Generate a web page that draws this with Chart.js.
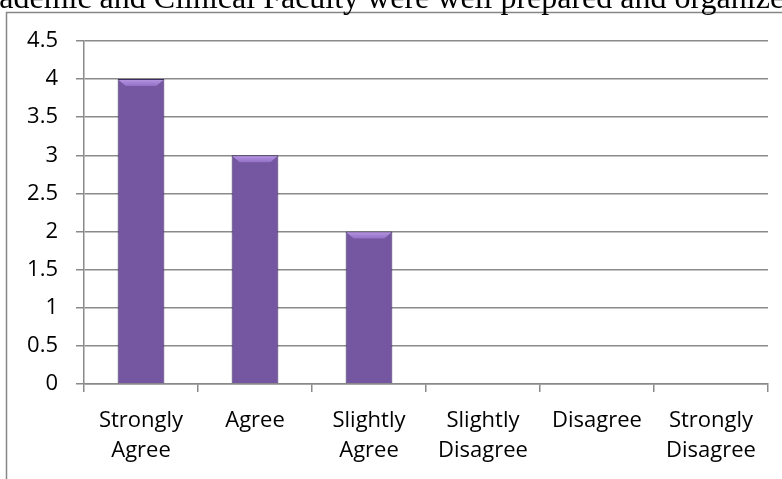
<!DOCTYPE html>
<html>
<head>
<meta charset="utf-8">
<script src="https://cdn.jsdelivr.net/npm/chart.js@4"></script>
<style>
  html, body { margin: 0; padding: 0; background: #fff; }
  #wrap { width: 782px; height: 479px; }
</style>
</head>
<body>
<div id="wrap"><canvas id="myChart" width="782" height="479"></canvas></div>
<script>
var titleText = 'Academic and Clinical Faculty were well prepared and organized';
var categories = [
    ['Strongly', 'Agree'],
    'Agree',
    ['Slightly', 'Agree'],
    ['Slightly', 'Disagree'],
    'Disagree',
    ['Strongly', 'Disagree']
];
var responses = [4, 3, 2, 0, 0, 0];
var yTicks = [0, 0.5, 1, 1.5, 2, 2.5, 3, 3.5, 4, 4.5];

// frame + cut-off title, like the pasted excel chart
var framePlugin = {
    id: 'frame',
    beforeDraw: function (chart) {
        var c = chart.ctx;
        c.save();
        c.fillStyle = '#fff';
        c.fillRect(0, 0, chart.width, chart.height);
        c.strokeStyle = '#868686';
        c.lineWidth = 1.5;
        c.strokeRect(6.5, 12.5, 900, 600);
        c.fillStyle = '#000';
        c.font = '32px "Liberation Serif", "Times New Roman", serif';
        c.textAlign = 'center';
        c.textBaseline = 'alphabetic';
        c.fillText(titleText, 381, 8);
        c.restore();
    }
};

// light bevel on top of each bar
var bevelPlugin = {
    id: 'bevel',
    afterDatasetsDraw: function (chart) {
        var c = chart.ctx;
        var meta = chart.getDatasetMeta(0);
        c.save();
        meta.data.forEach(function (bar, i) {
            if (!responses[i]) return;
            var w = bar.width, l = bar.x - w / 2, r = bar.x + w / 2, t = bar.y;
            var d = 7;
            var g = c.createLinearGradient(0, t, 0, t + d);
            g.addColorStop(0, '#b898e4');
            g.addColorStop(1, '#9270c6');
            c.fillStyle = g;
            c.beginPath();
            c.moveTo(l + 1, t + 1);
            c.lineTo(r - 1, t + 1);
            c.lineTo(r - 1 - d, t + d);
            c.lineTo(l + 1 + d, t + d);
            c.closePath();
            c.fill();
        });
        c.restore();
    }
};

var ctx = document.getElementById('myChart').getContext('2d');
var myChart = new Chart(ctx, {
    type: 'bar',
    data: {
        labels: categories,
        datasets: [{
            label: 'Responses',
            data: responses,
            backgroundColor: function (context) {
                var el = context.element;
                if (!el || !el.width) return '#7556a0';
                var l = el.x - el.width / 2, r = el.x + el.width / 2;
                var g = context.chart.ctx.createLinearGradient(l, 0, r, 0);
                g.addColorStop(0, '#5a3f84');
                g.addColorStop(0.12, '#7050a0');
                g.addColorStop(0.45, '#825fb2');
                g.addColorStop(0.85, '#6c4c98');
                g.addColorStop(1, '#4a3470');
                return g;
            },
            borderColor: '#3e2b5e',
            borderWidth: 1,
            categoryPercentage: 1,
            barPercentage: 0.41
        }]
    },
    plugins: [framePlugin, bevelPlugin],
    options: {
        responsive: false,
        maintainAspectRatio: false,
        animation: false,
        layout: { padding: { left: 0, right: 14, top: 41, bottom: 0 } },
        plugins: {
            legend: { display: false },
            title: { display: false },
            tooltip: { enabled: false }
        },
        scales: {
            y: {
                min: 0,
                max: 4.5,
                afterFit: function (scale) { scale.width = 84; },
                afterBuildTicks: function (scale) {
                    scale.ticks = yTicks.map(function (v) { return { value: v }; });
                },
                ticks: {
                    color: '#000',
                    padding: 18,
                    callback: function (v) { return String(v); },
                    font: { family: '"Open Sans", Lato, sans-serif', size: 22 }
                },
                grid: {
                    color: '#8a8a8a',
                    lineWidth: 1.5,
                    tickLength: 8
                },
                border: { color: '#8a8a8a', width: 1.5 }
            },
            x: {
                afterFit: function (scale) { scale.height = 95; },
                ticks: {
                    color: '#000',
                    padding: 14,
                    maxRotation: 0,
                    autoSkip: false,
                    font: { family: '"Open Sans", Lato, sans-serif', size: 22, lineHeight: 1.36 }
                },
                grid: {
                    offset: true,
                    drawOnChartArea: false,
                    color: '#8a8a8a',
                    lineWidth: 1.5,
                    tickLength: 8
                },
                border: { color: '#8a8a8a', width: 1.5 }
            }
        }
    }
});
</script>
</body>
</html>
